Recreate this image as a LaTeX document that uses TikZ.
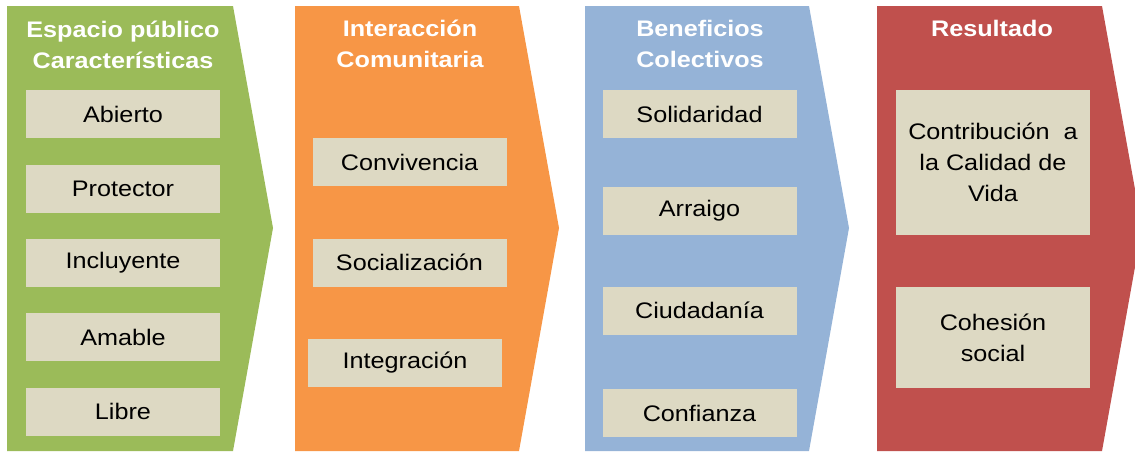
\documentclass[tikz,border=0pt]{standalone}
\usepackage{fontspec}
\setmainfont{Liberation Sans}[FakeStretch=1.12]
\definecolor{cgreen}{HTML}{9BBB59}
\definecolor{corange}{HTML}{F79646}
\definecolor{cblue}{HTML}{95B3D7}
\definecolor{cred}{HTML}{C0504D}
\definecolor{boxc}{HTML}{DDD9C3}
\begin{document}
\begin{tikzpicture}[x=1pt,y=-1pt,
  item/.style={fill=boxc, minimum width=194pt, minimum height=48pt, inner sep=0pt,
    font=\fontsize{22.5}{31}\selectfont, align=center},
  head/.style={text=white, font=\bfseries\fontsize{22.5}{31.7}\selectfont, align=center, inner sep=0pt}]
\useasboundingbox (0,0) rectangle (1135,451);
% chevrons
\fill[cgreen]  (7,6)   -- (233,6)  -- (273,228)  -- (233,451)  -- (7,451)   -- cycle;
\fill[corange] (295,6) -- (519,6)  -- (559,228)  -- (519,451)  -- (295,451) -- cycle;
\fill[cblue]   (585,6) -- (809,6)  -- (849,228)  -- (809,451)  -- (585,451) -- cycle;
\fill[cred]    (877,6) -- (1102,6) -- (1142,228) -- (1102,451) -- (877,451) -- cycle;
% headers
\node[head] (h1) at (123,45) {Espacio público\\Características};
\node[head] (h2) at (410,44) {Interacción\\Comunitaria};
\node[head] (h3) at (700,44) {Beneficios\\Colectivos};
\node[head] (h4) at (992,28) {Resultado};
% green items
\node[item] (g1) at (123,114) {Abierto};
\node[item] (g2) at (123,189) {Protector};
\node[item] (g3) at (123,263) {Incluyente};
\node[item] (g4) at (123,337) {Amable};
\node[item] (g5) at (123,411.5) {Libre};
% orange items
\node[item] (o1) at (409.5,162) {Convivencia};
\node[item] (o2) at (409.5,262.5) {Socialización};
\node[item] (o3) at (405,363) {Integración};
% blue items
\node[item] (b1) at (699.5,114) {Solidaridad};
\node[item] (b2) at (699.5,211) {Arraigo};
\node[item] (b3) at (699.5,310.5) {Ciudadanía};
\node[item] (b4) at (699.5,413) {Confianza};
% red items
\node[item, minimum height=145pt] (r1) at (993,162.5) {Contribución~ a\\la Calidad de\\Vida};
\node[item, minimum height=101pt] (r2) at (993,337.5) {Cohesión\\social};
\end{tikzpicture}
\end{document}
